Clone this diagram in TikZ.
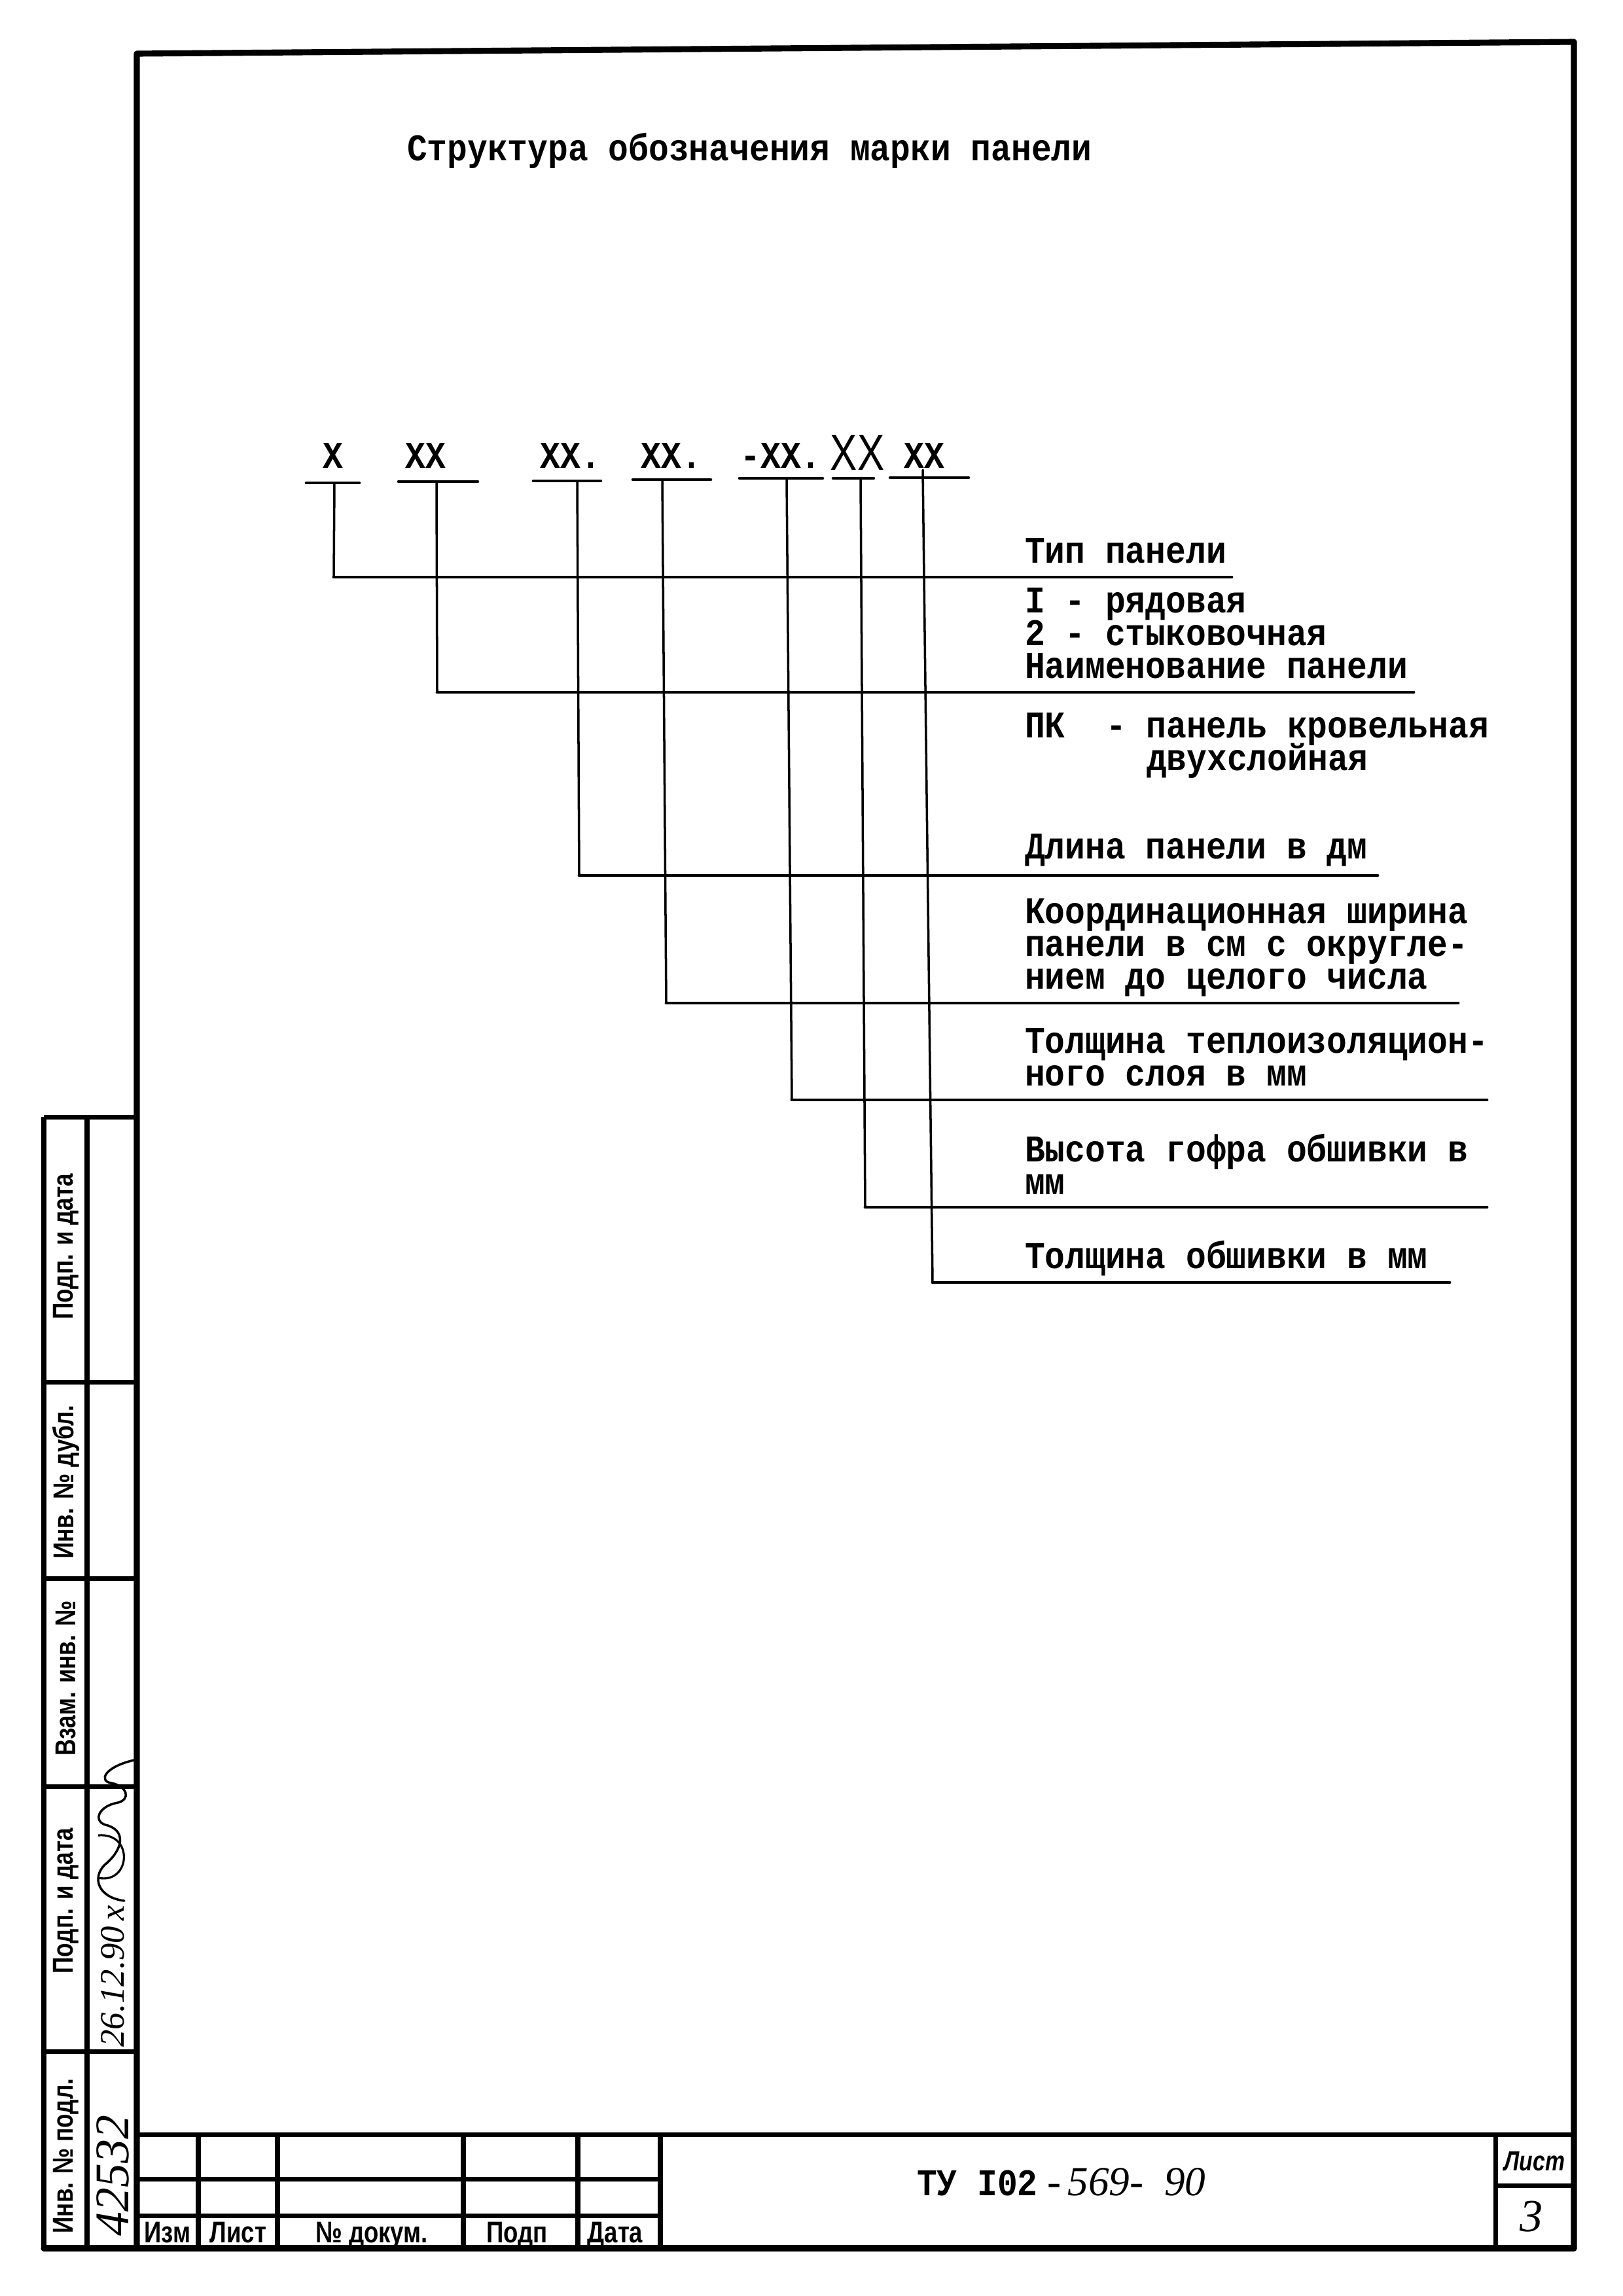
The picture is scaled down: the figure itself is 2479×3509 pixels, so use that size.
\documentclass[tikz,border=0pt]{standalone}
\usepackage{fontspec}
\setmainfont{Liberation Mono}
\newfontfamily\tw{Liberation Mono}[FakeStretch=0.89]
\newfontfamily\stamp{Liberation Sans}[FakeStretch=0.8]
\newfontfamily\hand{Liberation Serif}
\tikzset{
  every node/.style={inner sep=0pt, outer sep=0pt},
  typed/.style={font=\tw\bfseries\fontsize{16.4}{17}\selectfont, anchor=base west},
  code/.style={font=\tw\bfseries\fontsize{16.4}{17}\selectfont, anchor=base},
  bigcode/.style={font=\stamp\fontsize{22}{23}\selectfont, anchor=base},
  vconn/.style={line width=1.0pt, line cap=round},
  hconn/.style={line width=1.4pt, line cap=round},
  uline/.style={line width=1.3pt, line cap=round},
  frameline/.style={line width=2.6pt, line cap=round, line join=round},
  cell/.style={line width=2pt},
  stamplab/.style={font=\stamp\bfseries\fontsize{12.5}{13}\selectfont, rotate=90},
  tblab/.style={font=\stamp\bfseries\fontsize{13}{14}\selectfont, anchor=base},
  handw/.style={font=\hand\itshape\fontsize{14}{15}\selectfont},
}
\begin{document}
\begin{tikzpicture}[x=0.1mm,y=-0.1mm]
\useasboundingbox (0,0) rectangle (2479,3509);

% ---------- outer frame ----------
\coordinate (fTL) at (209,82);
\coordinate (fTR) at (2405,64);
\coordinate (fBR) at (2405,3436);
\coordinate (fBL) at (209,3436);
\coordinate (sBL) at (67,3436);
\draw[frameline] (fBL) -- (fTL) -- (fTR) -- (fBR);
\draw[frameline] (sBL) -- (fBR);

% ---------- left strip ----------
\draw[cell] (67,1707) -- (209,1707);
\draw[cell] (67,1707) -- (67,3436);
\draw[cell] (133,1707) -- (133,3436);
\foreach \yy in {2112,2412,2730,3135} \draw[cell] (67,\yy) -- (209,\yy);
\node[stamplab] (s1) at (101,1905) {Подп. и дата};
\node[stamplab] (s2) at (101,2265) {Инв. № дубл.};
\node[stamplab] (s3) at (101,2565) {Взам. инв. №};
\node[stamplab] (s4) at (101,2905) {Подп. и дата};
\node[stamplab] (s5) at (101,3295) {Инв. № подл.};
\node[handw, rotate=90, font=\hand\itshape\fontsize{15}{16}\selectfont] (d1) at (172,3020) {26.12.90\,x};
\draw[line width=1pt, line cap=round, line join=round]
  (190,2905) .. controls (150,2900) and (140,2870) .. (160,2850)
  .. controls (185,2830) and (195,2800) .. (165,2790)
  .. controls (140,2785) and (150,2760) .. (180,2755)
  .. controls (200,2750) and (195,2730) .. (170,2725)
  .. controls (150,2722) and (160,2700) .. (205,2690);
\draw[line width=0.9pt] (150,2870) .. controls (200,2880) and (205,2800) .. (150,2805);
\node[handw, rotate=90, font=\hand\itshape\fontsize{21}{22}\selectfont] (d2) at (172,3325) {42532};

% ---------- title block ----------
\draw[cell] (209,3262) -- (2405,3262);
\draw[cell] (209,3330) -- (1009,3330);
\draw[cell] (209,3386) -- (1009,3386);
\foreach \xx in {303,424,708,883,1009} \draw[cell] (\xx,3262) -- (\xx,3436);
\node[tblab] (b1) at (256,3427) {Изм};
\node[tblab] (b2) at (364,3427) {Лист};
\node[tblab] (b3) at (568,3427) {№ докум.};
\node[tblab] (b4) at (790,3427) {Подп};
\node[tblab] (b5) at (940,3427) {Дата};
\node[typed] (tu) at (1401,3355) {ТУ I02};
\node[anchor=base west, font=\hand\itshape\fontsize{18}{19}\selectfont] (tun) at (1600,3355) {-\,569-\ \ 90};
\draw[cell] (2285,3262) -- (2285,3436);
\draw[cell] (2285,3340) -- (2405,3340);
\node[font=\stamp\bfseries\itshape\fontsize{12}{13}\selectfont] (lst) at (2345,3303) {Лист};
\node[font=\hand\itshape\fontsize{20}{21}\selectfont] (num) at (2340,3388) {3};

% ---------- heading ----------
\node[typed] (title) at (622,245) {Структура обозначения марки панели};

% ---------- mark codes ----------
\node[code] (m1) at (509,715) {X};
\node[code] (m2) at (650,715) {XX};
\node[code] (m3) at (872,715) {XX.};
\node[code] (m4) at (1026,715) {XX.};
\node[code] (m5) at (1193,715) {-XX.};
\node[bigcode] (m6) at (1310,718) {XX};
\node[code] (m7) at (1412,715) {XX};

% underlines
\coordinate (u1a) at (468,738);  \coordinate (u1b) at (549,738);
\coordinate (u2a) at (609,736);  \coordinate (u2b) at (730,736);
\coordinate (u3a) at (815,735);  \coordinate (u3b) at (918,735);
\coordinate (u4a) at (967,733);  \coordinate (u4b) at (1086,733);
\coordinate (u5a) at (1130,731); \coordinate (u5b) at (1257,731);
\coordinate (u6a) at (1273,731); \coordinate (u6b) at (1335,731);
\coordinate (u7a) at (1360,730); \coordinate (u7b) at (1480,730);
\foreach \i in {1,...,7} \draw[uline] (u\i a) -- (u\i b);

% leader lines: top, corner, end of shelf
\coordinate (v1t) at (511,738);  \coordinate (v1b) at (510,882);  \coordinate (h1e) at (1882,882);
\coordinate (v2t) at (667,736);  \coordinate (v2b) at (668,1058); \coordinate (h2e) at (2160,1058);
\coordinate (v3t) at (882,735);  \coordinate (v3b) at (885,1338); \coordinate (h3e) at (2105,1338);
\coordinate (v4t) at (1012,733); \coordinate (v4b) at (1018,1533); \coordinate (h4e) at (2228,1533);
\coordinate (v5t) at (1202,731); \coordinate (v5b) at (1210,1681); \coordinate (h5e) at (2272,1681);
\coordinate (v6t) at (1315,731); \coordinate (v6b) at (1322,1845); \coordinate (h6e) at (2272,1845);
\coordinate (v7t) at (1410,718); \coordinate (v7b) at (1425,1960); \coordinate (h7e) at (2215,1960);
\foreach \i in {1,...,7} {
  \draw[vconn] (v\i t) -- (v\i b);
  \draw[hconn] (v\i b) -- (h\i e);
}

% ---------- explanations ----------
\node[typed] (t1)  at (1566,860)  {Тип панели};
\node[typed] (t2a) at (1566,936)  {I - рядовая};
\node[typed] (t2b) at (1566,986)  {2 - стыковочная};
\node[typed] (t2c) at (1566,1036) {Наименование панели};
\node[typed] (t3a) at (1566,1127) {ПК};
\node[typed] (t3b) at (1690,1127) {- панель кровельная};
\node[typed] (t3c) at (1752,1177) {двухслойная};
\node[typed] (t4)  at (1566,1312) {Длина панели в дм};
\node[typed] (t5a) at (1566,1411) {Координационная ширина};
\node[typed] (t5b) at (1566,1461) {панели в см с округле-};
\node[typed] (t5c) at (1566,1511) {нием до целого числа};
\node[typed] (t6a) at (1566,1609) {Толщина теплоизоляцион-};
\node[typed] (t6b) at (1566,1659) {ного слоя в мм};
\node[typed] (t7a) at (1566,1775) {Высота гофра обшивки в};
\node[typed] (t7b) at (1566,1825) {мм};
\node[typed] (t8)  at (1566,1938) {Толщина обшивки в мм};
\end{tikzpicture}
\end{document}
